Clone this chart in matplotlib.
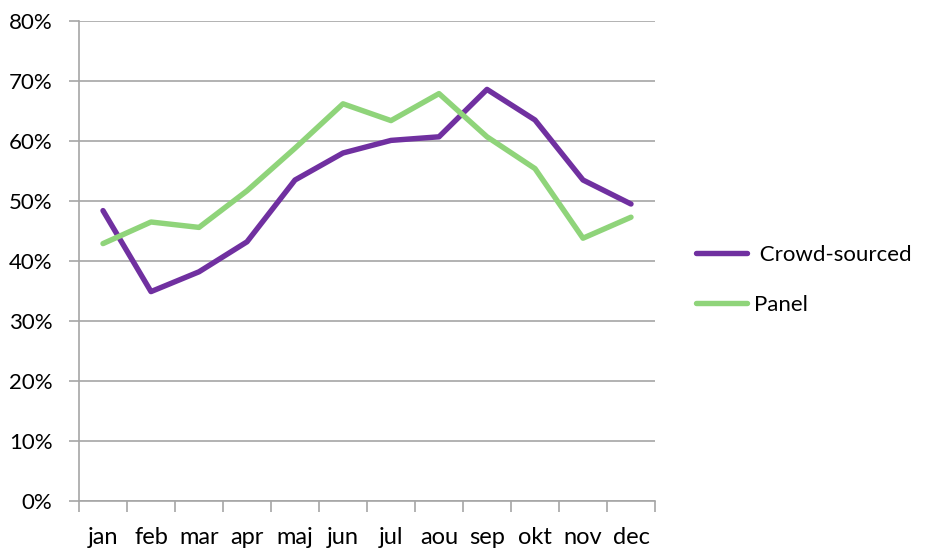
""" Monthly share: crowd-sourced vs panel """
import numpy as np
import matplotlib.pyplot as plt
from matplotlib.ticker import FixedLocator, PercentFormatter

# Data
months = ['jan', 'feb', 'mar', 'apr', 'maj', 'jun', 'jul', 'aou', 'sep', 'okt', 'nov', 'dec']
crowd = [48.4, 34.9, 38.2, 43.2, 53.5, 58.0, 60.1, 60.7, 68.6, 63.5, 53.5, 49.5]
panel = [42.9, 46.5, 45.6, 51.7, 58.8, 66.2, 63.4, 67.9, 60.7, 55.4, 43.8, 47.3]
yticks = [0, 10, 20, 30, 40, 50, 60, 70, 80]

plt.rcParams['font.family'] = ['Lato', 'DejaVu Sans']
grid_col = '#a6a6a6'

fig = plt.figure(figsize=(9.25, 5.52), dpi=100)
ax = fig.add_axes([79 / 925, 51 / 552, 576 / 925, 480 / 552])

x = np.arange(len(months))
ax.plot(x, crowd, color='#7030a0', lw=3.9, solid_capstyle='round', label=' Crowd-sourced')
ax.plot(x, panel, color='#8fd47a', lw=3.9, solid_capstyle='round', label='Panel')

ax.set_xlim(-0.5, len(months) - 0.5)
ax.set_ylim(0, 80)
ax.set_yticks(yticks)
ax.yaxis.set_major_formatter(PercentFormatter(decimals=0))
ax.set_xticks(x)
ax.set_xticklabels(months)
ax.xaxis.set_minor_locator(FixedLocator(np.arange(-0.5, len(months), 1)))

ax.grid(axis='y', color=grid_col, lw=1.2)
ax.set_axisbelow(True)
for s in ['top', 'right']:
    ax.spines[s].set_visible(False)
for s in ['left', 'bottom']:
    ax.spines[s].set_color(grid_col)
    ax.spines[s].set_linewidth(1.2)

ax.tick_params(axis='y', length=7, color=grid_col, width=1.2, labelsize=16, pad=12)
ax.tick_params(axis='x', which='major', length=0, labelsize=17, pad=19)
ax.tick_params(axis='x', which='minor', length=8, color=grid_col, width=1.2)

ax.legend(loc='center left', bbox_to_anchor=(1.036, 0.46), frameon=False,
          fontsize=16, handlelength=2.3, handletextpad=0.3, labelspacing=1.35)

fig.savefig('out.png', dpi=100)
